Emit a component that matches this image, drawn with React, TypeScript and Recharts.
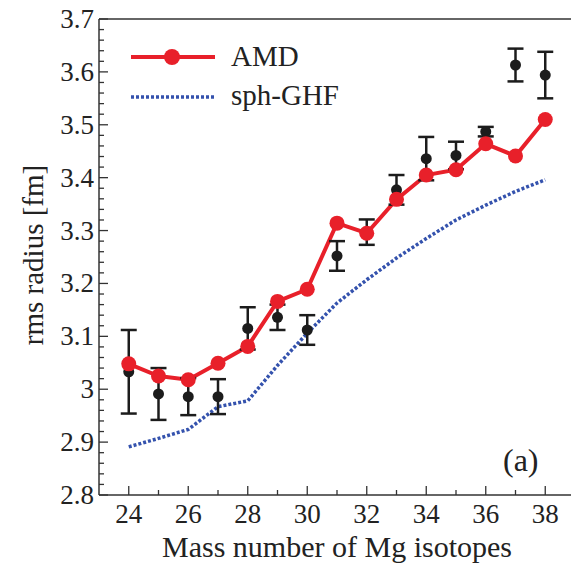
import {
  ComposedChart,
  Line,
  Scatter,
  ErrorBar,
  XAxis,
  YAxis,
  Legend,
} from 'recharts'

const massNumbers = [24, 25, 26, 27, 28, 29, 30, 31, 32, 33, 34, 35, 36, 37, 38]
const amdRadius = [3.048, 3.025, 3.018, 3.049, 3.081, 3.166, 3.189, 3.314, 3.295, 3.359, 3.405, 3.415, 3.464, 3.441, 3.51]
const expRadius = [3.033, 2.991, 2.986, 2.986, 3.115, 3.136, 3.112, 3.252, 3.297, 3.377, 3.436, 3.442, 3.487, 3.613, 3.594]
const expError = [0.079, 0.049, 0.035, 0.033, 0.04, 0.024, 0.028, 0.028, 0.024, 0.028, 0.041, 0.026, 0.009, 0.031, 0.044]
const ghfRadius = [2.891, 2.907, 2.924, 2.967, 2.978, 3.045, 3.106, 3.163, 3.207, 3.248, 3.285, 3.32, 3.348, 3.374, 3.396]

const xTicks = [24, 25, 26, 27, 28, 29, 30, 31, 32, 33, 34, 35, 36, 37, 38, 39]
const yTicks = Array.from({ length: 46 }, (_, i) => Math.round((2.8 + i * 0.02) * 100) / 100)

const data = massNumbers.map((m, i) => ({
  mass: m,
  amd: amdRadius[i],
  exp: expRadius[i],
  err: expError[i],
  ghf: ghfRadius[i],
}))

const RED = '#e8202a'
const BLUE = '#3452ad'
const INK = '#1c1c1c'
const AXIS = '#333'
const FONT = '"Liberation Serif", "Times New Roman", serif'

const isMajorY = (v: number) => Math.abs(v * 10 - Math.round(v * 10)) < 1e-6

function BottomTick({ x, y, payload }: any) {
  const major = payload.value % 2 === 0
  return (
    <g>
      <line x1={x} x2={x} y1={y} y2={y - (major ? 9 : 5)} stroke={AXIS} strokeWidth={1.3} />
      {major && (
        <text x={x} y={y + 28} textAnchor="middle" fontFamily={FONT} fontSize={27} fill="#222">
          {payload.value}
        </text>
      )}
    </g>
  )
}

function TopTick({ x, y, payload }: any) {
  const major = payload.value % 2 === 0
  return <line x1={x} x2={x} y1={y} y2={y + (major ? 9 : 5)} stroke={AXIS} strokeWidth={1.3} />
}

function LeftTick({ x, y, payload }: any) {
  const major = isMajorY(payload.value)
  return (
    <g>
      <line x1={x} x2={x + (major ? 9 : 5)} y1={y} y2={y} stroke={AXIS} strokeWidth={1.3} />
      {major && (
        <text x={x - 5} y={y + 9} textAnchor="end" fontFamily={FONT} fontSize={27} fill="#222">
          {Number(payload.value.toFixed(1)).toString()}
        </text>
      )}
    </g>
  )
}

function RightTick({ x, y, payload }: any) {
  const major = isMajorY(payload.value)
  return <line x1={x} x2={x - (major ? 9 : 5)} y1={y} y2={y} stroke={AXIS} strokeWidth={1.3} />
}

function LegendBox() {
  return (
    <svg width={200} height={80} style={{ overflow: 'visible', display: 'block' }}>
      <line x1={0} x2={84} y1={8} y2={8} stroke={RED} strokeWidth={4} />
      <circle cx={41} cy={8} r={8} fill={RED} />
      <text x={100} y={17} fontFamily={FONT} fontSize={29} fill="#222">AMD</text>
      <line x1={0} x2={84} y1={48} y2={48} stroke={BLUE} strokeWidth={3.5} strokeDasharray="3 2" />
      <text x={100} y={56} fontFamily={FONT} fontSize={29} fill="#222">sph-GHF</text>
    </svg>
  )
}

export default function App() {
  return (
    <div style={{ position: 'absolute', left: 0, top: 0, width: 571, height: 565, overflow: 'hidden', background: '#fff' }}>
      <ComposedChart
        width={580}
        height={565}
        data={data}
        margin={{ top: 18, right: 4, bottom: 69, left: 98 }}
      >
        <XAxis
          dataKey="mass"
          type="number"
          domain={[23, 39]}
          ticks={xTicks}
          interval={0}
          height={1}
          tickSize={0}
          tickMargin={0}
          tickLine={false}
          tick={<BottomTick />}
          axisLine={{ stroke: AXIS, strokeWidth: 1.5 }}
          label={{
            value: 'Mass number of Mg isotopes',
            position: 'bottom',
            offset: 40,
            fontFamily: FONT,
            fontSize: 30,
            fill: '#222',
          }}
        />
        <XAxis
          xAxisId="top"
          orientation="top"
          type="number"
          domain={[23, 39]}
          ticks={xTicks}
          interval={0}
          height={1}
          tickSize={0}
          tickMargin={0}
          tickLine={false}
          tick={<TopTick />}
          axisLine={{ stroke: AXIS, strokeWidth: 1.5 }}
        />
        <YAxis
          type="number"
          domain={[2.8, 3.7]}
          ticks={yTicks}
          interval={0}
          width={1}
          tickSize={0}
          tickMargin={0}
          tickLine={false}
          tick={<LeftTick />}
          axisLine={{ stroke: AXIS, strokeWidth: 1.5 }}
          label={{
            content: () => (
              <text
                x={43}
                y={255}
                transform="rotate(-90 43 255)"
                textAnchor="middle"
                fontFamily={FONT}
                fontSize={29}
                fill="#222"
              >
                rms radius [fm]
              </text>
            ),
          }}
        />
        <YAxis
          yAxisId="right"
          orientation="right"
          type="number"
          domain={[2.8, 3.7]}
          ticks={yTicks}
          interval={0}
          width={1}
          tickSize={0}
          tickMargin={0}
          tickLine={false}
          tick={<RightTick />}
          axisLine={{ stroke: AXIS, strokeWidth: 1.5 }}
        />
        <Legend
          content={<LegendBox />}
          wrapperStyle={{ position: 'absolute', left: 131, top: 49, width: 200, height: 0, overflow: 'visible' }}
        />
        <Line
          dataKey="ghf"
          stroke={BLUE}
          strokeWidth={3.5}
          strokeDasharray="3 2"
          dot={false}
          isAnimationActive={false}
          legendType="none"
        />
        <Line
          dataKey="amd"
          stroke={RED}
          strokeWidth={4}
          dot={{ r: 7.5, fill: RED, stroke: RED, strokeWidth: 0 }}
          isAnimationActive={false}
          legendType="none"
        />
        <Scatter
          dataKey="exp"
          fill={INK}
          isAnimationActive={false}
          shape={(p: any) => <circle cx={p.cx} cy={p.cy} r={5.5} fill={INK} />}
        >
          <ErrorBar dataKey="err" direction="y" width={8} stroke={INK} strokeWidth={2.5} />
        </Scatter>
      </ComposedChart>
      <div
        style={{
          position: 'absolute',
          left: 503,
          top: 440,
          fontFamily: FONT,
          fontSize: 32,
          color: '#222',
          lineHeight: '40px',
        }}
      >
        (a)
      </div>
    </div>
  )
}
